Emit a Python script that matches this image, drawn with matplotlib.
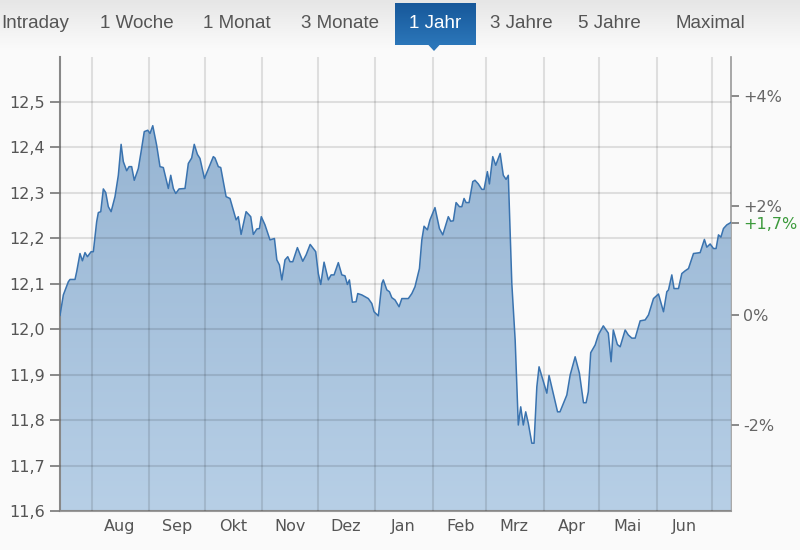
import numpy as np
import pandas as pd
import matplotlib
matplotlib.use('Agg')
import matplotlib.pyplot as plt
import matplotlib.dates as mdates
from matplotlib.colors import LinearSegmentedColormap
from matplotlib.patches import Polygon
from matplotlib.ticker import FuncFormatter, FixedLocator

# data: days since start, closing price
start = pd.Timestamp('2019-07-14')
days = [0.7, 2.5, 5.2, 6.1, 8.8, 9.7, 11.5, 12.8, 14.2, 15.5,
        17.5, 18.7, 20.5, 21.4, 22.7, 24.1, 25.4, 26.8, 28.3, 30.4,
        32.2, 33.7, 34.9, 36.7, 38.0, 39.4, 40.8, 43.0, 44.5, 46.2,
        48.1, 49.3, 50.8, 52.9, 54.7, 56.5, 59.2, 60.5, 61.9, 63.2,
        65.0, 68.2, 70.0, 71.8, 73.2, 74.9, 76.3, 78.7, 80.5, 83.5,
        84.4, 86.2, 87.5, 90.4, 92.5, 95.8, 97.0, 98.5, 101.2, 103.7,
        105.1, 107.0, 108.4, 109.4, 111.4, 114.1, 116.5, 117.8, 119.2, 120.5,
        122.2, 123.7, 124.9, 126.4, 128.9, 131.8, 133.6, 135.8, 138.8, 140.2,
        141.5, 143.3, 145.6, 147.1, 148.7, 151.0, 152.9, 154.6, 155.9, 157.0,
        158.6, 160.6, 161.5, 163.7, 167.2, 169.1, 170.3, 172.6, 174.5, 175.3,
        177.2, 178.6, 179.9, 181.6, 183.8, 185.3, 188.8, 190.7, 192.4, 194.8,
        196.1, 197.3, 199.1, 200.5, 203.2, 205.6, 207.4, 210.4, 211.7, 213.1,
        214.6, 216.4, 217.7, 218.9, 220.0, 221.6, 223.6, 224.8, 226.6, 228.5,
        229.7, 231.5, 232.6, 234.4, 236.0, 238.4, 240.1, 241.6, 242.8, 244.7,
        246.5, 248.2, 249.5, 250.9, 252.2, 253.6, 255.5, 256.7, 258.2, 259.4,
        263.6, 264.8, 269.4, 270.7, 274.4, 276.2, 278.9, 281.2, 283.4, 284.8,
        286.0, 287.3, 289.7, 291.4, 294.1, 296.8, 298.3, 299.5, 301.7, 303.2,
        305.9, 307.6, 309.5, 311.3, 314.0, 316.7, 318.5, 321.2, 323.9, 326.6,
        328.4, 329.3, 331.1, 332.3, 334.7, 336.5, 338.3, 340.1, 342.8, 346.4,
        348.7, 350.0, 351.8, 353.6, 355.0, 356.3, 357.6, 359.0, 360.8, 362.9]
close = [12.030, 12.075, 12.104, 12.109, 12.109, 12.126, 12.166, 12.150, 12.168, 12.159,
         12.170, 12.170, 12.236, 12.256, 12.258, 12.308, 12.300, 12.269, 12.258, 12.291,
         12.338, 12.406, 12.368, 12.348, 12.357, 12.357, 12.327, 12.353, 12.390, 12.434,
         12.437, 12.430, 12.447, 12.404, 12.357, 12.355, 12.309, 12.338, 12.309, 12.298,
         12.308, 12.309, 12.364, 12.376, 12.406, 12.384, 12.375, 12.331, 12.349, 12.379,
         12.376, 12.357, 12.355, 12.291, 12.287, 12.240, 12.247, 12.208, 12.258, 12.247,
         12.208, 12.220, 12.221, 12.247, 12.229, 12.196, 12.199, 12.152, 12.141, 12.108,
         12.152, 12.159, 12.148, 12.148, 12.179, 12.149, 12.163, 12.186, 12.170, 12.122,
         12.098, 12.147, 12.108, 12.119, 12.119, 12.146, 12.119, 12.117, 12.098, 12.108,
         12.059, 12.060, 12.078, 12.075, 12.067, 12.056, 12.038, 12.029, 12.100, 12.108,
         12.086, 12.082, 12.069, 12.064, 12.049, 12.067, 12.067, 12.078, 12.093, 12.133,
         12.196, 12.226, 12.218, 12.240, 12.267, 12.221, 12.207, 12.247, 12.237, 12.238,
         12.278, 12.269, 12.269, 12.287, 12.278, 12.278, 12.324, 12.327, 12.319, 12.307,
         12.307, 12.346, 12.319, 12.379, 12.360, 12.386, 12.338, 12.329, 12.338, 12.100,
         11.976, 11.789, 11.829, 11.789, 11.818, 11.793, 11.749, 11.749, 11.873, 11.917,
         11.859, 11.898, 11.818, 11.818, 11.855, 11.899, 11.939, 11.903, 11.838, 11.838,
         11.862, 11.948, 11.965, 11.987, 12.007, 11.991, 11.928, 11.998, 11.966, 11.961,
         11.998, 11.987, 11.980, 11.980, 12.018, 12.020, 12.031, 12.067, 12.077, 12.038,
         12.082, 12.086, 12.119, 12.089, 12.089, 12.122, 12.128, 12.133, 12.166, 12.168,
         12.197, 12.180, 12.187, 12.177, 12.177, 12.207, 12.202, 12.221, 12.229, 12.234]
months = ['Aug', 'Sep', 'Okt', 'Nov', 'Dez', 'Jan', 'Feb', 'Mrz', 'Apr', 'Mai', 'Jun']
pct_ticks = [-2, 0, 2, 4]
tabs = ['Intraday', '1 Woche', '1 Monat', '3 Monate', '1 Jahr', '3 Jahre', '5 Jahre', 'Maximal']
active = '1 Jahr'

bg = '#fafafa'
dates = start + pd.to_timedelta(days, unit='D')
x = mdates.date2num(dates.values)
y = np.array(close)
base = close[0]
ymin, ymax = 11.6, 12.598

fig = plt.figure(figsize=(8, 5.5), dpi=100, facecolor=bg)
ax = fig.add_axes([60/800, 39/550, 670.7/800, 454/550], facecolor=bg)

# gradient area under the line
cmap = LinearSegmentedColormap.from_list('fill', ['#97b5d3', '#b7cfe6'])
im = ax.imshow(np.linspace(0, 1, 256).reshape(-1, 1), extent=[x[0], x[-1], ymin, y.max()],
               origin='upper', aspect='auto', cmap=cmap, zorder=1)
verts = np.column_stack([np.r_[x[0], x, x[-1]], np.r_[ymin, y, ymin]])
poly = Polygon(verts, closed=True, facecolor='none', edgecolor='none', transform=ax.transData)
ax.add_patch(poly)
im.set_clip_path(poly)
ax.plot(x, y, color='#3a73af', lw=1.1, zorder=4)

ax.set_xlim(x[0], x[-1])
ax.set_ylim(ymin, ymax)

# grid: month starts / every 0.1
month_starts = pd.date_range('2019-08-01', '2020-07-01', freq='MS')
label_pos = pd.date_range('2019-08-01', periods=len(months), freq='MS') + pd.Timedelta(days=15)
ax.xaxis.set_major_locator(FixedLocator(mdates.date2num(month_starts.values)))
ax.xaxis.set_minor_locator(FixedLocator(mdates.date2num(label_pos.values)))
ax.xaxis.set_major_formatter(FuncFormatter(lambda v, p: ''))
ax.xaxis.set_minor_formatter(FuncFormatter(lambda v, p: months[p] if p < len(months) else ''))
ax.tick_params(axis='x', which='both', length=0, pad=6, labelsize=11.5, labelcolor='#555555')

ax.set_yticks(np.arange(11.6, 12.55, 0.1))
ax.yaxis.set_major_formatter(FuncFormatter(lambda v, p: f'{v:.1f}'.replace('.', ',')))
ax.tick_params(axis='y', length=7, width=1.2, color='#777777', pad=4,
               labelsize=11.5, labelcolor='#555555')

ax.set_axisbelow(False)
ax.grid(True, which='major', color='black', alpha=0.11, lw=1.5, zorder=2)

for s in ['top', 'right']:
    ax.spines[s].set_visible(False)
ax.spines['left'].set_color('#888888')
ax.spines['left'].set_linewidth(1.5)
ax.spines['bottom'].set_color('#999999')
ax.spines['bottom'].set_linewidth(1.5)

# right axis in percent
sec = ax.secondary_yaxis('right', functions=(lambda p: (p / base - 1) * 100,
                                             lambda q: base * (1 + q / 100)))
last_pct = (close[-1] / base - 1) * 100
ticks = sorted(pct_ticks + [last_pct])
labels = []
for t in ticks:
    if t == last_pct:
        labels.append(f'{t:+.1f}%'.replace('.', ','))
    elif t == 0:
        labels.append('0%')
    else:
        labels.append(f'{t:+.0f}%')
sec.set_yticks(ticks, labels=labels)
sec.tick_params(length=6, width=1.2, color='#777777', pad=3, labelsize=11.5, labelcolor='#666666')
for t, lab in zip(ticks, sec.get_yticklabels()):
    if t == last_pct:
        lab.set_color('#3c9a3c')
sec.spines['right'].set_color('#999999')
sec.spines['right'].set_linewidth(1.2)

# tab bar on top
hdr = fig.add_axes([0, 1 - 52/550, 1, 52/550])
hdr.set_xlim(0, 800)
hdr.set_ylim(52, 0)
hdr.axis('off')
hcmap = LinearSegmentedColormap.from_list('hdr', ['#e6e6e6', bg])
hdr.imshow(np.linspace(0, 1, 64).reshape(-1, 1), extent=[0, 800, 48, 0], origin='upper',
           aspect='auto', cmap=hcmap, zorder=0)
tab_x = [35.5, 137, 237, 340, 435.5, 521, 609, 710]
for name, tx in zip(tabs, tab_x):
    if name == active:
        tcmap = LinearSegmentedColormap.from_list('tab', ['#17589a', '#2b76b9'])
        hdr.imshow(np.linspace(0, 1, 64).reshape(-1, 1), extent=[395, 476, 45, 3],
                   origin='upper', aspect='auto', cmap=tcmap, zorder=1)
        hdr.add_patch(Polygon([(428, 44.5), (440, 44.5), (434, 51)], closed=True,
                              facecolor='#2b76b9', edgecolor='none', zorder=1))
        col = 'white'
    else:
        col = '#555555'
    hdr.text(tx, 24, name, ha='center', va='center', fontsize=13.5,
             family='Liberation Sans', color=col, zorder=2)
hdr.set_xlim(0, 800)
hdr.set_ylim(52, 0)

fig.savefig('out.png', dpi=100, facecolor=bg)
